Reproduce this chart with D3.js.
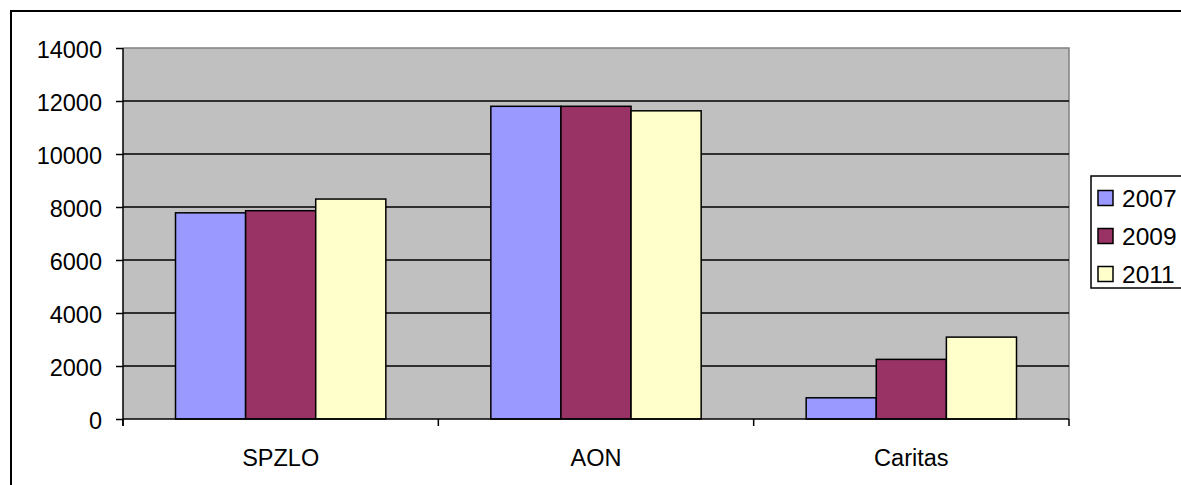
<!DOCTYPE html>
<html>
<head>
<meta charset="utf-8">
<script src="https://cdn.jsdelivr.net/npm/d3@7"></script>
<style>
html,body{margin:0;padding:0;background:#fff;}
svg{display:block;font-family:"Liberation Sans",Arial,sans-serif;}
</style>
</head>
<body>
<svg id="chart" width="1181" height="485"></svg>
<script>
const categories = ["SPZLO", "AON", "Caritas"];
const seriesNames = ["2007", "2009", "2011"];
const values2007 = [7780, 11800, 800];
const values2009 = [7860, 11800, 2250];
const values2011 = [8300, 11630, 3090];
const yTicks = [0, 2000, 4000, 6000, 8000, 10000, 12000, 14000];
const colors = ["#9999FF", "#993366", "#FFFFCC"];

const seriesValues = [values2007, values2009, values2011];

const svg = d3.select("#chart");
const plotLeft = 123, plotRight = 1069, plotTop = 48, plotBottom = 419;

// outer border
svg.append("rect").attr("x", 11).attr("y", 11).attr("width", 1200).attr("height", 500)
  .attr("fill", "#fff").attr("stroke", "#000").attr("stroke-width", 2);

const x0 = d3.scaleBand().domain(categories).range([plotLeft, plotRight]).paddingInner(0.333).paddingOuter(0.1665);
const x1 = d3.scaleBand().domain(seriesNames).range([0, x0.bandwidth()]).padding(0);
const y = d3.scaleLinear().domain([0, 14000]).range([plotBottom, plotTop]);

// plot background
svg.append("rect").attr("x", plotLeft).attr("y", plotTop).attr("width", plotRight - plotLeft).attr("height", plotBottom - plotTop)
  .attr("fill", "#C0C0C0");
// plot border top/right gray
svg.append("path").attr("d", `M${plotLeft},${plotTop}H${plotRight}V${plotBottom}`)
  .attr("fill", "none").attr("stroke", "#808080").attr("stroke-width", 1.5);

// gridlines
svg.append("g").selectAll("line").data(yTicks.filter(d => d > 0 && d < 14000)).join("line")
  .attr("x1", plotLeft).attr("x2", plotRight).attr("y1", d => y(d)).attr("y2", d => y(d))
  .attr("stroke", "#000").attr("stroke-width", 1.5);

// bars
const groups = svg.append("g").selectAll("g").data(categories).join("g")
  .attr("transform", d => `translate(${x0(d)},0)`);
groups.selectAll("rect").data((c, ci) => seriesNames.map((s, si) => ({s, si, v: seriesValues[si][ci]}))).join("rect")
  .attr("x", d => x1(d.s)).attr("width", x1.bandwidth())
  .attr("y", d => y(d.v)).attr("height", d => y(0) - y(d.v))
  .attr("fill", d => colors[d.si]).attr("stroke", "#000").attr("stroke-width", 1.5);

// y axis
const yAxis = d3.axisLeft(y).tickValues(yTicks).tickSize(7).tickPadding(14).tickFormat(d3.format("d"));
const gy = svg.append("g").attr("transform", `translate(${plotLeft},0)`).call(yAxis);
gy.select(".domain").attr("d", `M0,${plotTop}V${plotBottom + 7}`).attr("stroke", "#000").attr("stroke-width", 1.5);
gy.selectAll(".tick line").attr("stroke", "#000").attr("stroke-width", 1.5);
gy.selectAll("text").attr("font-size", 23.5).attr("fill", "#000").attr("dy", "0.42em")
  .attr("font-family", "Liberation Sans, Arial, sans-serif");

// x axis
const xAxis = d3.axisBottom(x0).tickSize(0).tickPadding(30);
const gx = svg.append("g").attr("transform", `translate(0,${plotBottom})`).call(xAxis);
gx.select(".domain").attr("d", `M${plotLeft},0H${plotRight}`).attr("stroke", "#000").attr("stroke-width", 1.5);
gx.selectAll("text").attr("font-size", 23.5).attr("fill", "#000").attr("font-family", "Liberation Sans, Arial, sans-serif");
// category boundary ticks
const bounds = [plotLeft].concat(categories.map(c => x0(c) + x0.bandwidth() + x0.step() * x0.paddingOuter()));
gx.append("g").selectAll("line").data(bounds).join("line")
  .attr("x1", d => d).attr("x2", d => d).attr("y1", 0).attr("y2", 7)
  .attr("stroke", "#000").attr("stroke-width", 1.5);

// legend
const lg = svg.append("g");
lg.append("rect").attr("x", 1091).attr("y", 176).attr("width", 120).attr("height", 112)
  .attr("fill", "#fff").attr("stroke", "#000").attr("stroke-width", 1.5);
const items = lg.selectAll("g.item").data(seriesNames).join("g").attr("class", "item")
  .attr("transform", (d, i) => `translate(1098,${198 + i * 38})`);
items.append("rect").attr("x", 0).attr("y", -7.5).attr("width", 15).attr("height", 15)
  .attr("fill", (d, i) => colors[i]).attr("stroke", "#000").attr("stroke-width", 1.5);
items.append("text").attr("x", 24).attr("y", 0).attr("dy", "0.38em").attr("font-size", 24.5)
  .attr("fill", "#000").text(d => d);
</script>
</body>
</html>
